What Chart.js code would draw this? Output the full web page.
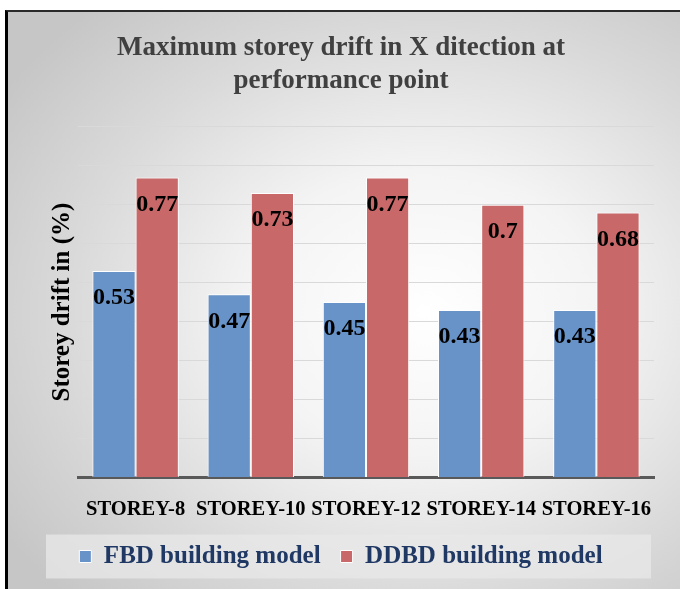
<!DOCTYPE html>
<html>
<head>
<meta charset="utf-8">
<script src="https://cdn.jsdelivr.net/npm/chart.js@4.4.0/dist/chart.umd.min.js"></script>
<style>
  html, body { margin: 0; background: #fff; overflow: hidden; width: 680px; height: 589px; }
  #frame {
    position: absolute; left: 5px; top: 10px; width: 675px; height: 579px;
    box-sizing: border-box;
    border-left: 3px solid #000; border-top: 2px solid #2a2a2a;
    background: radial-gradient(ellipse 75% 70% at 62% 52%, #ffffff 0%, #f4f4f4 35%, #dadada 70%, #c6c6c6 100%);
  }
  #wrap { position: absolute; left: 0; top: 0; width: 680px; height: 589px; }
</style>
</head>
<body>
<div id="frame"></div>
<div id="wrap"><canvas id="drift"></canvas></div>
<script>
var storeys = ["STOREY-8", "STOREY-10", "STOREY-12", "STOREY-14", "STOREY-16"];
var fbd_data = [0.53, 0.47, 0.45, 0.43, 0.43];
var ddbd_data = [0.77, 0.73, 0.77, 0.7, 0.68];

// caja gris detras de la leyenda
const legendBox = {
  id: "legendBox",
  beforeDraw(chart) {
    const hb = chart.legend.legendHitBoxes[0];
    const ctx = chart.ctx;
    const cy = hb.top + hb.height / 2;
    ctx.save();
    ctx.fillStyle = "rgba(232,232,232,0.75)";
    ctx.fillRect(46, cy - 22, 605, 44);
    ctx.restore();
  }
};

// etiquetas de valor dentro de la barra, arriba
const valueLabels = {
  id: "valueLabels",
  afterDatasetsDraw(chart) {
    const ctx = chart.ctx;
    ctx.save();
    ctx.font = "bold 24px 'Liberation Serif'";
    ctx.fillStyle = "#000";
    ctx.textAlign = "center";
    ctx.textBaseline = "middle";
    chart.data.datasets.forEach((ds, i) => {
      chart.getDatasetMeta(i).data.forEach((bar, j) => {
        ctx.fillText(ds.data[j], bar.x, bar.y + 27);
      });
    });
    ctx.restore();
  }
};

const data = {
  labels: storeys,
  datasets: [
    {
      label: "FBD building model",
      data: fbd_data,
      backgroundColor: "#6893c8",
      borderColor: "#ffffff",
      borderWidth: 1,
    },
    {
      label: "DDBD building model",
      data: ddbd_data,
      backgroundColor: "#c96868",
      borderColor: "#ffffff",
      borderWidth: 1,
    },
  ],
};

const options = {
  responsive: false,
  animation: false,
  layout: { padding: { left: 28, right: 26, top: 0, bottom: 10 } },
  datasets: { bar: { categoryPercentage: 0.75, barPercentage: 1.0 } },
  plugins: {
    title: {
      display: true,
      text: ["Maximum storey drift in X ditection at", "performance point"],
      color: "#404040",
      font: { family: "'Liberation Serif'", size: 27, weight: "bold", lineHeight: 1.2 },
      padding: { top: 32, bottom: 30 },
    },
    legend: {
      display: true,
      position: "bottom",
      labels: {
        color: "#1f3864",
        font: { family: "'Liberation Serif'", size: 25, weight: "bold" },
        boxWidth: 12,
        boxHeight: 12,
        padding: 20,
      },
    },
    tooltip: { enabled: false },
  },
  scales: {
    x: {
      grid: { display: false, drawTicks: false },
      border: { display: true, color: "#595959", width: 3 },
      ticks: {
        color: "#000",
        padding: 20,
        maxRotation: 0,
        autoSkip: false,
        font: { family: "'Liberation Serif'", size: 20.5, weight: "bold" },
      },
      afterFit(scale) {
        scale.height -= 18;
      },
    },
    y: {
      min: 0,
      max: 0.9,
      ticks: { display: false, stepSize: 0.1 },
      grid: { color: "#d9d9d9", drawTicks: false },
      border: { display: false },
      title: {
        display: true,
        text: "Storey drift in (%)",
        color: "#000",
        padding: { top: 20, bottom: 0 },
        font: { family: "'Liberation Serif'", size: 25, weight: "bold" },
      },
    },
  },
};

const cv = document.getElementById("drift");
cv.width = 680;
cv.height = 589;
new Chart(cv, {
  type: "bar",
  data,
  options,
  plugins: [legendBox, valueLabels],
});
</script>
</body>
</html>
